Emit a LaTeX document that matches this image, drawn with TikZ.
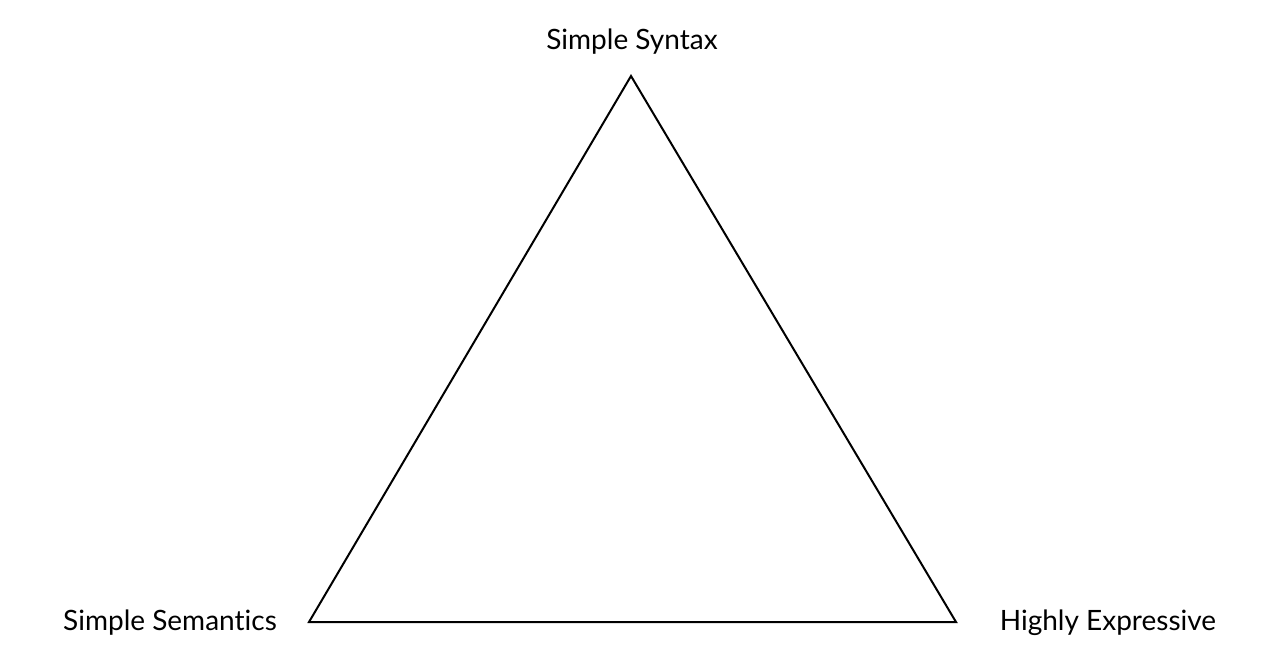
\documentclass[tikz,border=0pt]{standalone}
\usepackage{fontspec}
\setmainfont{Lato}[Ligatures=NoCommon]
\usepackage{tikz}
\tikzset{
  corner/.style={font=\fontsize{28}{34}\selectfont,inner sep=0pt,anchor=base},
  edge/.style={line width=2pt,draw=black,line join=miter}
}

\begin{document}
\begin{tikzpicture}[x=1pt,y=-1pt]
\useasboundingbox (0,0) rectangle (1275,662);
\coordinate (top) at (631,76);
\coordinate (left) at (309,622);
\coordinate (right) at (956,622);
\node[corner] (syntax) at (632,49) {Simple Syntax};
\node[corner] (semantics) at (170,630) {Simple Semantics};
\node[corner] (expressive) at (1108,630) {Highly Expressive};
\draw[edge] (top) -- (right) -- (left) -- cycle;
\end{tikzpicture}
\end{document}
